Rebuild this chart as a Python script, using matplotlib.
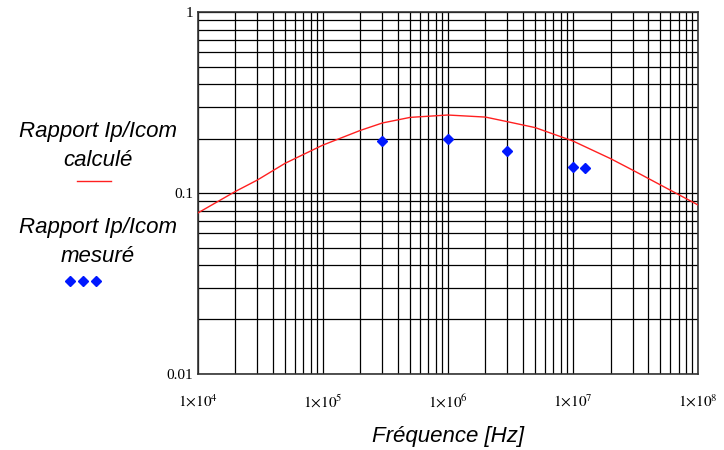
import matplotlib.pyplot as plt
from matplotlib.lines import Line2D
from matplotlib.ticker import LogLocator, FixedLocator, NullFormatter

plt.rcParams['mathtext.fontset'] = 'stix'

# calculated ratio Ip/Icom
f_calc = [1e4, 2e4, 3e4, 5e4, 1e5, 2e5, 3e5, 5e5, 1e6, 2e6, 3e6, 5e6, 1e7, 2e7, 3e7, 5e7, 1e8]
r_calc = [0.0775, 0.102, 0.118, 0.146, 0.184, 0.222, 0.244, 0.262, 0.270, 0.263, 0.248, 0.230, 0.194,
          0.155, 0.134, 0.111, 0.086]

# measured ratio
f_mes = [3e5, 1e6, 3e6, 1e7, 1.25e7]
r_mes = [0.194, 0.198, 0.171, 0.140, 0.137]

xticks = [1e4, 1e5, 1e6, 1e7, 1e8]
xlabels = [r'$1{\times}10^{4}$', r'$1{\times}10^{5}$', r'$1{\times}10^{6}$',
           r'$1{\times}10^{7}$', r'$1{\times}10^{8}$']
yticks = [0.01, 0.1, 1]
ylabels = ['0.01', '0.1', '1']

fig = plt.figure(figsize=(7.24, 4.5), dpi=100)
ax = fig.add_axes([0.273, 0.169, 0.691, 0.804])

ax.set_xscale('log')
ax.set_yscale('log')
ax.set_xlim(1e4, 1e8)
ax.set_ylim(0.01, 1)

ax.plot(f_calc, r_calc, color='#ff2020', lw=1.0, zorder=3)
ax.plot(f_mes, r_mes, ls='none', marker='D', ms=5, color='#0018ff', zorder=4)

ax.xaxis.set_major_locator(FixedLocator(xticks))
ax.xaxis.set_minor_locator(LogLocator(base=10, subs=range(2, 10)))
ax.yaxis.set_major_locator(FixedLocator(yticks))
ax.yaxis.set_minor_locator(LogLocator(base=10, subs=range(2, 10)))
ax.xaxis.set_minor_formatter(NullFormatter())
ax.yaxis.set_minor_formatter(NullFormatter())
ax.set_xticklabels(xlabels, fontsize=11, fontfamily='serif')
ax.set_yticklabels(ylabels, fontsize=11, fontfamily='Liberation Serif')
ax.tick_params(which='both', length=0)
ax.tick_params(axis='x', pad=14)
ax.tick_params(axis='y', pad=3)
ax.grid(True, which='both', color='black', lw=0.9)
for s in ax.spines.values():
    s.set_color('#333333')
    s.set_linewidth(1.2)

ax.set_xlabel('Fréquence [Hz]', fontsize=16, fontstyle='italic',
              fontfamily='Liberation Sans', labelpad=11)

# legend on the left
lfont = dict(fontsize=16, fontstyle='italic', fontfamily='Liberation Sans', ha='center', va='center')
fig.text(0.135, 1 - 131 / 450, 'Rapport Ip/Icom', **lfont)
fig.text(0.135, 1 - 161 / 450, 'calculé', **lfont)
fig.add_artist(Line2D([77 / 724, 111 / 724], [1 - 181 / 450] * 2, color='#ff2020', lw=1.0))
fig.text(0.135, 1 - 227 / 450, 'Rapport Ip/Icom', **lfont)
fig.text(0.135, 1 - 256 / 450, 'mesuré', **lfont)
fig.add_artist(Line2D([70 / 724, 83 / 724, 96 / 724], [1 - 281 / 450] * 3, ls='none',
                      marker='D', ms=5, color='#0018ff'))

fig.savefig('out.png', dpi=100)
